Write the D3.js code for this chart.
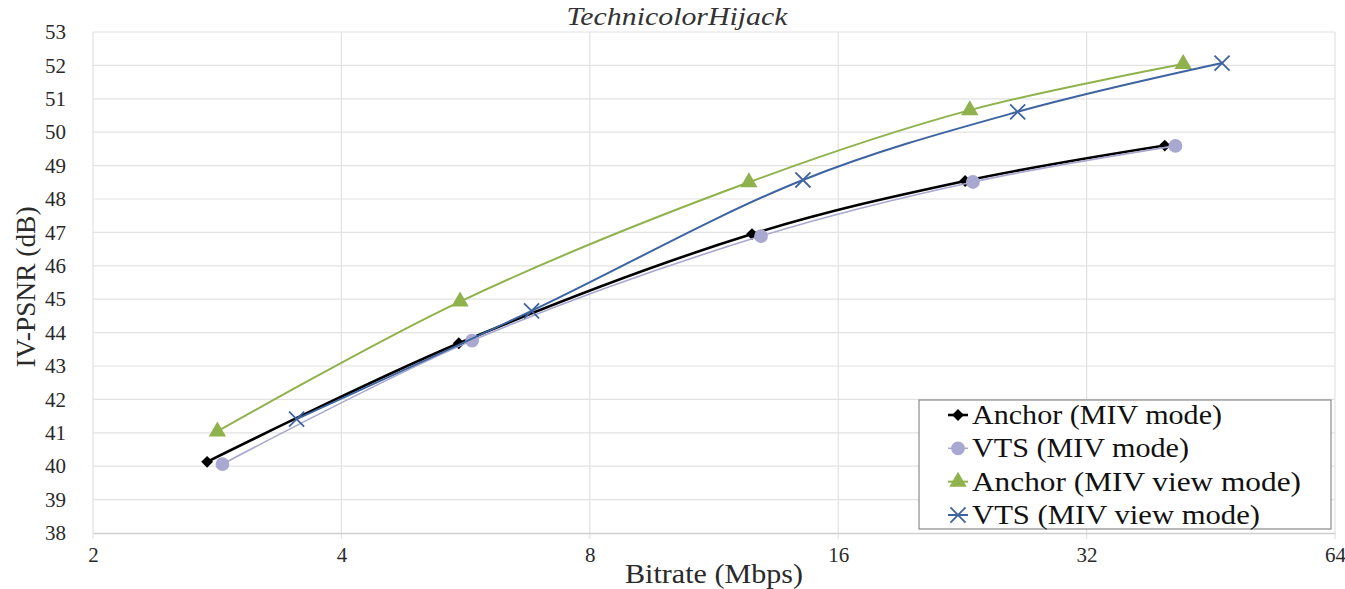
<!DOCTYPE html>
<html>
<head>
<meta charset="utf-8">
<script src="https://cdn.jsdelivr.net/npm/d3@7"></script>
<style>
  html, body { margin: 0; padding: 0; background: #fff; }
  svg { display: block; }
  svg text { font-family: "Liberation Serif", "Times New Roman", serif; }
</style>
</head>
<body>
<svg id="chart" width="1345" height="589"></svg>
<script>
// ---- data ----
const chartTitle = "TechnicolorHijack";
const xTitle = "Bitrate (Mbps)";
const yTitle = "IV-PSNR (dB)";
const xTicks = [2, 4, 8, 16, 32, 64];
const yTicks = [38, 39, 40, 41, 42, 43, 44, 45, 46, 47, 48, 49, 50, 51, 52, 53];
const seriesNames = ["Anchor (MIV mode)", "VTS (MIV mode)", "Anchor (MIV view mode)", "VTS (MIV view mode)"];

const anchorMivRate = [2.75, 5.55, 12.58, 22.8, 39.8];
const anchorMivPsnr = [40.13, 43.68, 46.95, 48.54, 49.6];
const vtsMivRate = [2.87, 5.76, 12.9, 23.3, 41.0];
const vtsMivPsnr = [40.06, 43.76, 46.89, 48.51, 49.59];
const anchorViewRate = [2.83, 5.57, 12.47, 23.1, 41.9];
const anchorViewPsnr = [41.04, 44.93, 48.5, 50.66, 52.04];
const vtsViewRate = [3.53, 6.8, 14.5, 26.4, 46.7];
const vtsViewPsnr = [41.41, 44.65, 48.57, 50.61, 52.07];

(function () {
// ---- styles ----
const styles = [
  { color: "#000000", marker: "diamond", width: 2.6, size: 70 },
  { color: "#a8a8d0", marker: "circle", width: 1.6, size: 150 },
  { color: "#8fb24c", marker: "triangle", width: 2.0, size: 130 },
  { color: "#3d64a0", marker: "cross", width: 2.0, size: 150 }
];
const series = [
  { name: seriesNames[0], x: anchorMivRate, y: anchorMivPsnr },
  { name: seriesNames[1], x: vtsMivRate, y: vtsMivPsnr },
  { name: seriesNames[2], x: anchorViewRate, y: anchorViewPsnr },
  { name: seriesNames[3], x: vtsViewRate, y: vtsViewPsnr }
].map((s, i) => Object.assign(s, styles[i], { pts: s.x.map((v, j) => [v, s.y[j]]) }));

const svg = d3.select("#chart");
const pLeft = 93, pRight = 1335, pTop = 32, pBottom = 533;

const x = d3.scaleLog().base(2).domain([2, 64]).range([pLeft, pRight]);
const y = d3.scaleLinear().domain([38, 53]).range([pBottom, pTop]);

// gridlines
const grid = svg.append("g");
grid.selectAll("line.h").data(yTicks.filter(d => d !== 38)).join("line")
  .attr("x1", pLeft).attr("x2", pRight)
  .attr("y1", d => y(d)).attr("y2", d => y(d))
  .attr("stroke", "#e2e2e2").attr("stroke-width", 1.2);
grid.selectAll("line.v").data(xTicks).join("line")
  .attr("x1", d => x(d)).attr("x2", d => x(d))
  .attr("y1", pTop).attr("y2", pBottom + 6)
  .attr("stroke", "#e2e2e2").attr("stroke-width", 1.2);

// axes
const xAxis = d3.axisBottom(x).tickValues(xTicks).tickFormat(d3.format("d")).tickSize(0).tickPadding(14);
const gx = svg.append("g").attr("transform", `translate(0,${pBottom})`).call(xAxis);
gx.attr("font-family", null);
gx.select(".domain").attr("stroke", "#cfcfcf").attr("stroke-width", 1.3);
gx.selectAll("text").attr("font-size", 21).attr("fill", "#2a2a2a");

const yAxis = d3.axisLeft(y).tickValues(yTicks).tickFormat(d3.format("d")).tickSize(0).tickPadding(27);
const gy = svg.append("g").attr("transform", `translate(${pLeft},0)`).call(yAxis);
gy.attr("font-family", null);
gy.select(".domain").remove();
gy.selectAll("text").attr("font-size", 21).attr("fill", "#2a2a2a");

// lines
const line = d3.line().x(d => x(d[0])).y(d => y(d[1])).curve(d3.curveCatmullRom.alpha(0.5));

function drawMarker(g, s, cx, cy) {
  if (s.marker === "diamond") {
    g.append("path").attr("d", d3.symbol(d3.symbolSquare, s.size)())
      .attr("transform", `translate(${cx},${cy}) rotate(45)`).attr("fill", s.color);
  } else if (s.marker === "circle") {
    g.append("path").attr("d", d3.symbol(d3.symbolCircle, s.size)())
      .attr("transform", `translate(${cx},${cy})`).attr("fill", s.color);
  } else if (s.marker === "triangle") {
    g.append("path").attr("d", d3.symbol(d3.symbolTriangle, s.size)())
      .attr("transform", `translate(${cx},${cy})`).attr("fill", s.color);
  } else {
    g.append("path").attr("d", d3.symbol(d3.symbolTimes, s.size)())
      .attr("transform", `translate(${cx},${cy})`).attr("fill", "none")
      .attr("stroke", s.color).attr("stroke-width", 1.8);
  }
}

series.forEach(s => {
  const g = svg.append("g");
  g.append("path").datum(s.pts).attr("d", line)
    .attr("fill", "none").attr("stroke", s.color).attr("stroke-width", s.width);
  s.pts.forEach(p => drawMarker(g, s, x(p[0]), y(p[1])));
});

// title
svg.append("text").attr("x", 677).attr("y", 25).attr("text-anchor", "middle")
  .attr("font-size", 25).attr("font-style", "italic").attr("fill", "#333")
  .attr("textLength", 221).attr("lengthAdjust", "spacingAndGlyphs")
  .text(chartTitle);

// axis titles
svg.append("text").attr("x", 714).attr("y", 583).attr("text-anchor", "middle")
  .attr("font-size", 28).attr("fill", "#2a2a2a")
  .attr("textLength", 178).attr("lengthAdjust", "spacingAndGlyphs")
  .text(xTitle);
svg.append("text").attr("transform", "translate(35,287) rotate(-90)").attr("text-anchor", "middle")
  .attr("font-size", 28).attr("fill", "#2a2a2a")
  .attr("textLength", 161).attr("lengthAdjust", "spacingAndGlyphs")
  .text(yTitle);

// legend
const lg = svg.append("g");
lg.append("rect").attr("x", 919).attr("y", 400).attr("width", 412).attr("height", 129)
  .attr("fill", "#fff").attr("stroke", "#8a8a8a").attr("stroke-width", 1.2);
const rowY = d3.scaleLinear().domain([0, 3]).range([415, 515]);
const legendWidths = [250, 217, 329, 288];
series.forEach((s, i) => {
  const cy = rowY(i);
  lg.append("line").attr("x1", 948).attr("x2", 968).attr("y1", cy).attr("y2", cy)
    .attr("stroke", s.color).attr("stroke-width", s.width);
  drawMarker(lg, s, 958, cy);
  lg.append("text").attr("x", 972).attr("y", cy + 9).attr("font-size", 28).attr("fill", "#111")
    .attr("textLength", legendWidths[i]).attr("lengthAdjust", "spacingAndGlyphs")
    .text(s.name);
});
})();
</script>
</body>
</html>
